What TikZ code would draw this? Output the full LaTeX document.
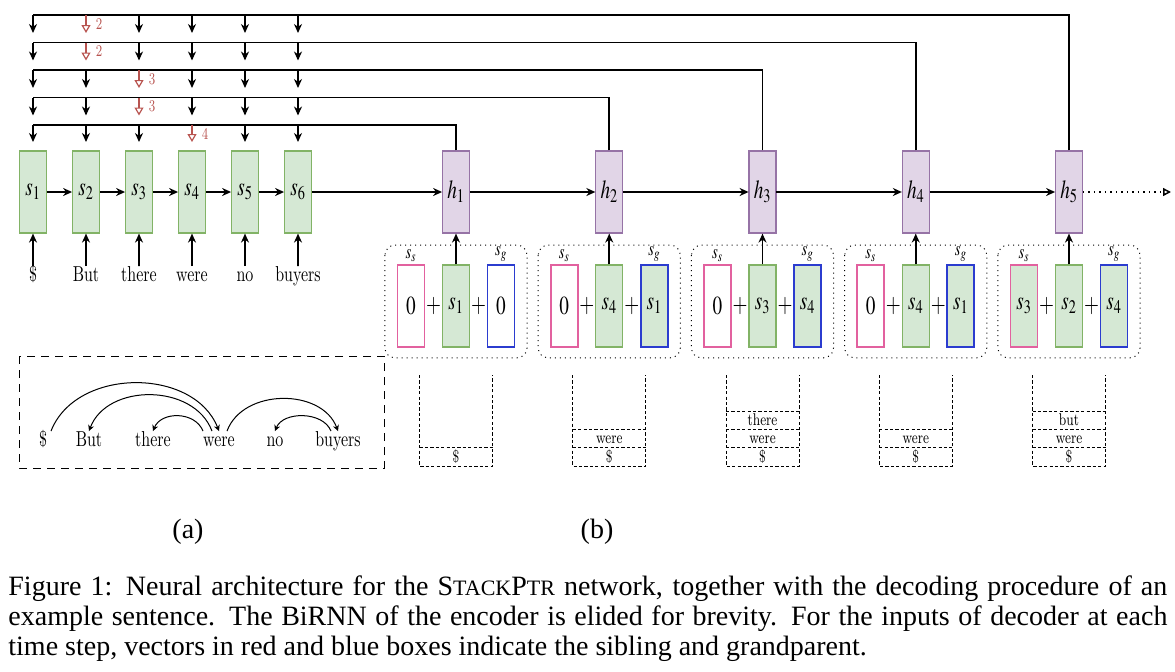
\documentclass[tikz,border=0pt]{standalone}
\usepackage{mathptmx}
\usepackage{fontspec}
\setmainfont{Latin Modern Roman}
\newfontfamily\capfont{Liberation Serif}
\usetikzlibrary{arrows.meta,positioning}

\definecolor{stategreen}{HTML}{D5E8D4}
\definecolor{stateborder}{HTML}{82B366}
\definecolor{decfill}{HTML}{E1D5E7}
\definecolor{decborder}{HTML}{9673A6}
\definecolor{sibpink}{HTML}{E2619F}
\definecolor{gpblue}{HTML}{2B3CCF}
\definecolor{ptrred}{HTML}{B85450}

\begin{document}
\begin{tikzpicture}[x=0.5pt, y=-0.5pt,
    vecbox/.style={line width=0.6pt, minimum width=18.2pt, minimum height=41pt, inner sep=0pt, xscale=0.74, font=\fontsize{13}{14}\selectfont},
    encbox/.style={vecbox, draw=stateborder, fill=stategreen},
    decbox/.style={vecbox, draw=decborder, fill=decfill},
    sibbox/.style={vecbox, draw=sibpink, line width=0.8pt},
    gpbox/.style={vecbox, draw=gpblue, line width=0.8pt},
    word/.style={inner sep=1pt, text height=1.5ex, text depth=.25ex, xscale=0.74, font=\fontsize{10.8}{13}\selectfont},
    stacktext/.style={inner sep=0pt, xscale=0.74, font=\fontsize{8.5}{10}\selectfont},
    vlabel/.style={inner sep=1pt, xscale=0.74, font=\fontsize{10}{11}\selectfont},
    conn/.style={line width=0.8pt, -{Stealth[length=4.5pt,width=4pt]}},
    ptrline/.style={line width=0.8pt},
    redptr/.style={draw=ptrred, line width=0.6pt, -{Triangle[open,length=4pt,width=4.5pt]}},
    redlabel/.style={text=ptrred, inner sep=1pt, xscale=0.74, font=\fontsize{8.2}{9}\selectfont},
    stepframe/.style={dotted, line width=0.5pt, rounded corners=5pt},
    stack/.style={dash pattern=on 1.6pt off 1.1pt, line width=0.5pt},
    deparc/.style={line width=0.5pt, -{Stealth[length=3pt,width=3pt]}},
    captext/.style={inner sep=0pt, font=\capfont\fontsize{14}{15}\selectfont}
  ]
  \useasboundingbox (0,0) rectangle (1175,671);

  % Encoder states
  \node[encbox] (s1) at (33,192) {$s_1$};
  \node[encbox] (s2) at (86,192) {$s_2$};
  \node[encbox] (s3) at (139,192) {$s_3$};
  \node[encbox] (s4) at (192,192) {$s_4$};
  \node[encbox] (s5) at (245,192) {$s_5$};
  \node[encbox] (s6) at (298,192) {$s_6$};

  % Input words
  \node[word] (w1) at (33,276) {\$};
  \node[word] (w2) at (86,276) {But};
  \node[word] (w3) at (139,276) {there};
  \node[word] (w4) at (192,276) {were};
  \node[word] (w5) at (245,276) {no};
  \node[word] (w6) at (298,276) {buyers};
  \draw[conn] (w1) -- (s1);
  \draw[conn] (w2) -- (s2);
  \draw[conn] (w3) -- (s3);
  \draw[conn] (w4) -- (s4);
  \draw[conn] (w5) -- (s5);
  \draw[conn] (w6) -- (s6);

  % Decoder states
  \node[decbox] (h1) at (456,192) {$h_1$};
  \node[decbox] (h2) at (609.25,192) {$h_2$};
  \node[decbox] (h3) at (762.5,192) {$h_3$};
  \node[decbox] (h4) at (915.75,192) {$h_4$};
  \node[decbox] (h5) at (1069,192) {$h_5$};
  \coordinate (hend) at (1171,192);

  \draw[conn] (s1) -- (s2);
  \draw[conn] (s2) -- (s3);
  \draw[conn] (s3) -- (s4);
  \draw[conn] (s4) -- (s5);
  \draw[conn] (s5) -- (s6);
  \draw[conn] (s6) -- (h1);
  \draw[conn] (h1) -- (h2);
  \draw[conn] (h2) -- (h3);
  \draw[conn] (h3) -- (h4);
  \draw[conn] (h4) -- (h5);
  \draw[line width=0.75pt, dotted, -{Triangle[open,length=4pt,width=4pt]}] (h5) -- (hend);

  % Pointer lines back to the encoder
  \coordinate (r1) at (33,15);
  \coordinate (r2) at (33,42.5);
  \coordinate (r3) at (33,70);
  \coordinate (r4) at (33,97.5);
  \coordinate (r5) at (33,125);

  \draw[ptrline] (h5.north) |- (r1);
  \foreach \s in {s1,s3,s4,s5,s6}
    \draw[conn] (\s |- r1) -- ++(0,18);
  \draw[redptr] (s2 |- r1) -- ++(0,18) node[midway, right=4pt, redlabel] {2};

  \draw[ptrline] (h4.north) |- (r2);
  \foreach \s in {s1,s3,s4,s5,s6}
    \draw[conn] (\s |- r2) -- ++(0,18);
  \draw[redptr] (s2 |- r2) -- ++(0,18) node[midway, right=4pt, redlabel] {2};

  \draw[ptrline] (h3.north) |- (r3);
  \foreach \s in {s1,s2,s4,s5,s6}
    \draw[conn] (\s |- r3) -- ++(0,18);
  \draw[redptr] (s3 |- r3) -- ++(0,18) node[midway, right=4pt, redlabel] {3};

  \draw[ptrline] (h2.north) |- (r4);
  \foreach \s in {s1,s2,s4,s5,s6}
    \draw[conn] (\s |- r4) -- ++(0,18);
  \draw[redptr] (s3 |- r4) -- ++(0,18) node[midway, right=4pt, redlabel] {3};

  \draw[ptrline] (h1.north) |- (r5);
  \foreach \s in {s1,s2,s3,s5,s6}
    \draw[conn] (\s |- r5) -- ++(0,17);
  \draw[redptr] (s4 |- r5) -- ++(0,17) node[midway, right=4pt, redlabel] {4};

  % Decoder inputs: sibling + head + grandparent
  \node[sibbox] (ss1) at (411,306) {$0$};
  \node[encbox] (sc1) at (456,306) {$s_1$};
  \node[gpbox] (sg1) at (501,306) {$0$};
  \node[sibbox] (ss2) at (564.25,306) {$0$};
  \node[encbox] (sc2) at (609.25,306) {$s_4$};
  \node[gpbox, fill=stategreen] (sg2) at (654.25,306) {$s_1$};
  \node[sibbox] (ss3) at (717.5,306) {$0$};
  \node[encbox] (sc3) at (762.5,306) {$s_3$};
  \node[gpbox, fill=stategreen] (sg3) at (807.5,306) {$s_4$};
  \node[sibbox] (ss4) at (870.75,306) {$0$};
  \node[encbox] (sc4) at (915.75,306) {$s_4$};
  \node[gpbox, fill=stategreen] (sg4) at (960.75,306) {$s_1$};
  \node[sibbox, fill=stategreen] (ss5) at (1024,306) {$s_3$};
  \node[encbox] (sc5) at (1069,306) {$s_2$};
  \node[gpbox, fill=stategreen] (sg5) at (1114,306) {$s_4$};

  \node[vecbox] (p1a) at (433.5,306) {$+$};
  \node[vecbox] (p1b) at (478.5,306) {$+$};
  \node[vecbox] (p2a) at (586.75,306) {$+$};
  \node[vecbox] (p2b) at (631.75,306) {$+$};
  \node[vecbox] (p3a) at (740,306) {$+$};
  \node[vecbox] (p3b) at (785,306) {$+$};
  \node[vecbox] (p4a) at (893.25,306) {$+$};
  \node[vecbox] (p4b) at (938.25,306) {$+$};
  \node[vecbox] (p5a) at (1046.5,306) {$+$};
  \node[vecbox] (p5b) at (1091.5,306) {$+$};

  \node[vlabel, above=0pt of ss1] (ls1) {$s_s$};
  \node[vlabel, above=0pt of sg1] (lg1) {$s_g$};
  \node[vlabel, above=0pt of ss2] (ls2) {$s_s$};
  \node[vlabel, above=0pt of sg2] (lg2) {$s_g$};
  \node[vlabel, above=0pt of ss3] (ls3) {$s_s$};
  \node[vlabel, above=0pt of sg3] (lg3) {$s_g$};
  \node[vlabel, above=0pt of ss4] (ls4) {$s_s$};
  \node[vlabel, above=0pt of sg4] (lg4) {$s_g$};
  \node[vlabel, above=0pt of ss5] (ls5) {$s_s$};
  \node[vlabel, above=0pt of sg5] (lg5) {$s_g$};

  \draw[stepframe] ([xshift=-6pt,yshift=9.5pt]ss1.north west) rectangle ([xshift=6pt,yshift=-5pt]sg1.south east);
  \draw[stepframe] ([xshift=-6pt,yshift=9.5pt]ss2.north west) rectangle ([xshift=6pt,yshift=-5pt]sg2.south east);
  \draw[stepframe] ([xshift=-6pt,yshift=9.5pt]ss3.north west) rectangle ([xshift=6pt,yshift=-5pt]sg3.south east);
  \draw[stepframe] ([xshift=-6pt,yshift=9.5pt]ss4.north west) rectangle ([xshift=6pt,yshift=-5pt]sg4.south east);
  \draw[stepframe] ([xshift=-6pt,yshift=9.5pt]ss5.north west) rectangle ([xshift=6pt,yshift=-5pt]sg5.south east);

  \draw[conn] (sc1) -- (h1);
  \draw[conn] (sc2) -- (h2);
  \draw[conn] (sc3) -- (h3);
  \draw[conn] (sc4) -- (h4);
  \draw[conn] (sc5) -- (h5);

  % Stacks
  \draw[stack] (419.5,375) -- (419.5,466) -- (492.5,466) -- (492.5,375);
  \draw[stack] (419.5,447.5) -- (492.5,447.5);
  \node[stacktext, anchor=base] (st1a) at (456,462.5) {\$};

  \draw[stack] (572.75,375) -- (572.75,466) -- (645.75,466) -- (645.75,375);
  \draw[stack] (572.75,447.5) -- (645.75,447.5);
  \draw[stack] (572.75,429) -- (645.75,429);
  \node[stacktext, anchor=base] (st2a) at (609.25,462.5) {\$};
  \node[stacktext, anchor=base] (st2b) at (609.25,443.5) {were};

  \draw[stack] (726,375) -- (726,466) -- (799,466) -- (799,375);
  \draw[stack] (726,447.5) -- (799,447.5);
  \draw[stack] (726,429) -- (799,429);
  \draw[stack] (726,411) -- (799,411);
  \node[stacktext, anchor=base] (st3a) at (762.5,462.5) {\$};
  \node[stacktext, anchor=base] (st3b) at (762.5,443.5) {were};
  \node[stacktext, anchor=base] (st3c) at (762.5,425) {there};

  \draw[stack] (879.25,375) -- (879.25,466) -- (952.25,466) -- (952.25,375);
  \draw[stack] (879.25,447.5) -- (952.25,447.5);
  \draw[stack] (879.25,429) -- (952.25,429);
  \node[stacktext, anchor=base] (st4a) at (915.75,462.5) {\$};
  \node[stacktext, anchor=base] (st4b) at (915.75,443.5) {were};

  \draw[stack] (1032.5,375) -- (1032.5,466) -- (1105.5,466) -- (1105.5,375);
  \draw[stack] (1032.5,447.5) -- (1105.5,447.5);
  \draw[stack] (1032.5,429) -- (1105.5,429);
  \draw[stack] (1032.5,411) -- (1105.5,411);
  \node[stacktext, anchor=base] (st5a) at (1069,462.5) {\$};
  \node[stacktext, anchor=base] (st5b) at (1069,443.5) {were};
  \node[stacktext, anchor=base] (st5c) at (1069,425) {but};

  % Dependency tree
  \draw[dash pattern=on 4pt off 3pt, line width=0.5pt] (19,356) rectangle (384,468);
  \node[word] (d0) at (43,441) {\$};
  \node[word] (d1) at (89,441) {But};
  \node[word] (d2) at (153,441) {there};
  \node[word] (d3) at (219,441) {were};
  \node[word] (d4) at (275,441) {no};
  \node[word] (d5) at (338,441) {buyers};
  \draw[deparc] ([xshift=4pt]d0.north) .. controls +(25,-64) and +(-25,-64) .. (d3.north);
  \draw[deparc] ([xshift=-3.5pt]d3.north) .. controls +(-18,-48) and +(18,-48) .. (d1.north);
  \draw[deparc] ([xshift=-8pt]d3.north) .. controls +(-8,-20) and +(8,-20) .. (d2.north);
  \draw[deparc] ([xshift=4pt]d3.north) .. controls +(16,-43) and +(-16,-43) .. (d5.north);
  \draw[deparc] ([xshift=-3.5pt]d5.north) .. controls +(-8,-20) and +(8,-20) .. (d4.north);

  % Sub-figure labels and caption
  \node[captext] (suba) at (188,532) {(a)};
  \node[captext] (subb) at (597,532) {(b)};
  \node[captext, anchor=north west, text width=579.5pt, align=justify] (caption) at (8,575)
    {Figure 1: Neural architecture for the S{\fontsize{11}{12}\selectfont TACK}P{\fontsize{11}{12}\selectfont TR} network, together with the decoding procedure of an\linebreak
     example sentence. The BiRNN of the encoder is elided for brevity. For the inputs of decoder at each\linebreak
     time step, vectors in red and blue boxes indicate the sibling and grandparent.\par};
\end{tikzpicture}
\end{document}
